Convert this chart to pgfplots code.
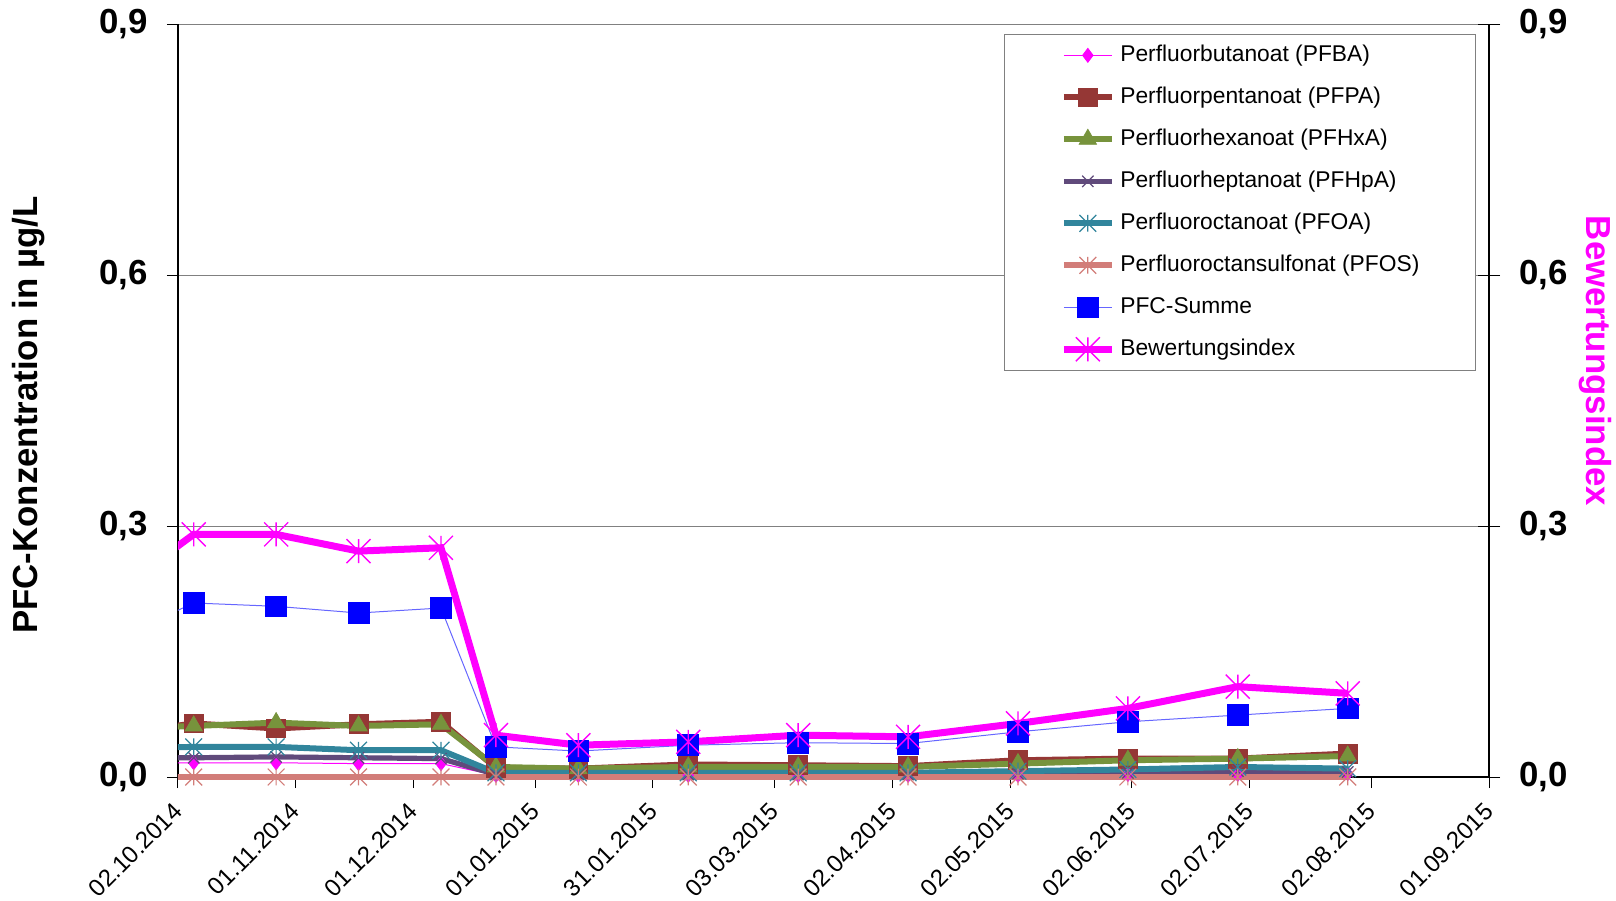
\documentclass[border=0pt]{standalone}
\usepackage{pgfplots}
\pgfplotsset{compat=1.18}
\usepackage{pgfplotstable}
\usepackage{fontspec}
\setmainfont{Liberation Sans}

\definecolor{cPFBA}{HTML}{FF00FF}
\definecolor{cPFPA}{HTML}{953735}
\definecolor{cPFHxA}{HTML}{77933C}
\definecolor{cPFHpA}{HTML}{604A7B}
\definecolor{cPFOA}{HTML}{31859C}
\definecolor{cPFOS}{HTML}{D27D79}
\definecolor{cSumL}{HTML}{6666FF}
\definecolor{cSum}{HTML}{0000FF}
\definecolor{cIdx}{HTML}{FF00FF}
\definecolor{cGrid}{HTML}{808080}

\pgfdeclareplotmark{xlstar}{%
  \pgfpathmoveto{\pgfqpoint{0pt}{\pgfplotmarksize}}%
  \pgfpathlineto{\pgfqpoint{0pt}{-\pgfplotmarksize}}%
  \pgfpathmoveto{\pgfqpoint{-\pgfplotmarksize}{\pgfplotmarksize}}%
  \pgfpathlineto{\pgfqpoint{\pgfplotmarksize}{-\pgfplotmarksize}}%
  \pgfpathmoveto{\pgfqpoint{-\pgfplotmarksize}{-\pgfplotmarksize}}%
  \pgfpathlineto{\pgfqpoint{\pgfplotmarksize}{\pgfplotmarksize}}%
  \pgfusepathqstroke}

% day = days after 02.10.2014
\pgfplotstableread{
day  PFBA  PFPA  PFHxA PFHpA PFOA  PFOS Summe Index
-7   0.017 0.057 0.059 0.023 0.035 0    0.184 0.252
4    0.017 0.064 0.061 0.023 0.036 0    0.208 0.290
25   0.017 0.058 0.065 0.024 0.036 0    0.204 0.290
46   0.016 0.063 0.061 0.023 0.032 0    0.196 0.270
67   0.016 0.066 0.063 0.022 0.032 0    0.202 0.274
81   0.002 0.011 0.012 0.003 0.005 0    0.036 0.050
102  0.002 0.010 0.010 0.003 0.005 0    0.031 0.038
130  0.002 0.015 0.012 0.003 0.005 0    0.038 0.042
158  0.002 0.014 0.012 0.003 0.005 0    0.041 0.050
186  0.002 0.013 0.012 0.003 0.005 0    0.040 0.048
214  0.002 0.020 0.016 0.004 0.007 0    0.054 0.064
242  0.003 0.022 0.020 0.005 0.009 0    0.066 0.082
270  0.003 0.022 0.022 0.007 0.012 0    0.074 0.108
298  0.004 0.028 0.025 0.006 0.010 0    0.082 0.100
}\datatable

\newcommand{\fbig}{\bfseries\fontsize{17.4}{20}\selectfont}
\newcommand{\fsmall}{\fontsize{11.4}{13.5}\selectfont}
\newcommand{\fdate}{\fontsize{12}{14}\selectfont}

\pgfplotsset{
  base/.style={at={(0pt,0pt)}, anchor=south west, scale only axis,
    width=655.5pt, height=376.5pt, xmin=0, xmax=334, ymin=0, ymax=0.9},
  numfmt/.style={/pgf/number format/.cd, fixed, fixed zerofill, precision=1,
    use comma, assume math mode=true},
}

\begin{document}
\begin{tikzpicture}
\path[use as bounding box] (-89pt,-61.5pt) rectangle (719pt,388.5pt);

% frame: grid, left and bottom axes, labels
\begin{axis}[base,
  axis x line*=bottom, axis y line*=left,
  axis line style={black, line width=0.75pt},
  ymajorgrids, grid style={color=cGrid, line width=0.5pt},
  xtick={0,30,60,91,121,152,182,212,243,273,304,334},
  xticklabels={02.10.2014,01.11.2014,01.12.2014,01.01.2015,31.01.2015,03.03.2015,02.04.2015,02.05.2015,02.06.2015,02.07.2015,02.08.2015,01.09.2015},
  ytick={0,0.3,0.6,0.9},
  tick align=outside, major tick length=5.5pt,
  tick style={black, line width=0.5pt},
  yticklabel style={xshift=-6pt, font=\fbig, numfmt},
  xticklabel style={font=\fdate, inner sep=0pt, anchor=east,
    xshift=0pt, yshift=-9.5pt, rotate=45},
]
\addplot[draw=none] coordinates {(0,0)};
\end{axis}

% data
\begin{scope}
\clip (0pt,-40pt) rectangle (719pt,420pt);
\begin{axis}[base, hide axis, clip=false,
  legend style={at={(0.990,0.987)}, anchor=north east, draw=cGrid,
    line width=0.5pt, fill=white, font=\fsmall,
    inner xsep=28pt, inner ysep=4.5pt, row sep=9pt,
    nodes={inner xsep=0pt, inner ysep=0pt, text height=9pt, text depth=3pt},
    /tikz/every odd column/.append style={column sep=2.5pt}},
  legend cell align=left,
  legend image code/.code={\draw[mark repeat=2,mark phase=2,#1] plot coordinates {(0pt,0pt) (12pt,0pt) (24pt,0pt)};},
]
\addplot[cPFBA, line width=0.5pt, mark=diamond*, mark size=3.5pt,
  mark options={solid, fill=cPFBA, line width=0.4pt}]
  table[x=day, y=PFBA]{\datatable};
\addlegendentry{Perfluorbutanoat (PFBA)}
\addplot[cPFPA, line width=3pt, mark=square*, mark size=4.7pt,
  mark options={solid, fill=cPFPA, line width=0.4pt}]
  table[x=day, y=PFPA]{\datatable};
\addlegendentry{Perfluorpentanoat (PFPA)}
\addplot[cPFHxA, line width=3pt, mark=triangle*, mark size=5pt,
  mark options={solid, fill=cPFHxA, line width=0.4pt}]
  table[x=day, y=PFHxA]{\datatable};
\addlegendentry{Perfluorhexanoat (PFHxA)}
\addplot[cPFHpA, line width=2.6pt, mark=x, mark size=4pt,
  mark options={solid, line width=0.6pt}]
  table[x=day, y=PFHpA]{\datatable};
\addlegendentry{Perfluorheptanoat (PFHpA)}
\addplot[cPFOA, line width=3pt, mark=xlstar, mark size=4.2pt,
  mark options={solid, line width=0.6pt}]
  table[x=day, y=PFOA]{\datatable};
\addlegendentry{Perfluoroctanoat (PFOA)}
\addplot[cPFOS, line width=3pt, mark=xlstar, mark size=4.2pt,
  mark options={solid, line width=0.6pt}]
  table[x=day, y=PFOS]{\datatable};
\addlegendentry{Perfluoroctansulfonat (PFOS)}
\addplot[cSumL, line width=0.5pt, mark=square*, mark size=5.2pt,
  mark options={solid, fill=cSum, draw=cSum, line width=0.4pt}]
  table[x=day, y=Summe]{\datatable};
\addlegendentry{PFC-Summe}
\addplot[cIdx, line width=3.5pt, mark=xlstar, mark size=6pt,
  mark options={solid, line width=0.7pt}]
  table[x=day, y=Index]{\datatable};
\addlegendentry{Bewertungsindex}
\end{axis}
\end{scope}

% secondary (right) axis
\begin{axis}[base,
  axis y line*=right, axis x line=none,
  axis line style={black, line width=0.75pt},
  ytick={0,0.3,0.6,0.9},
  tick align=center, major tick length=11pt,
  tick style={black, line width=0.5pt},
  yticklabel style={xshift=6pt, font=\fbig, numfmt},
]
\addplot[draw=none] coordinates {(0,0)};
\end{axis}

\node[rotate=90, font=\fbig] at (-74.5pt,181pt) {PFC-Konzentration in µg/L};
\node[rotate=-90, font=\fbig, text=cIdx] at (708.5pt,208pt) {Bewertungsindex};
\end{tikzpicture}
\end{document}
